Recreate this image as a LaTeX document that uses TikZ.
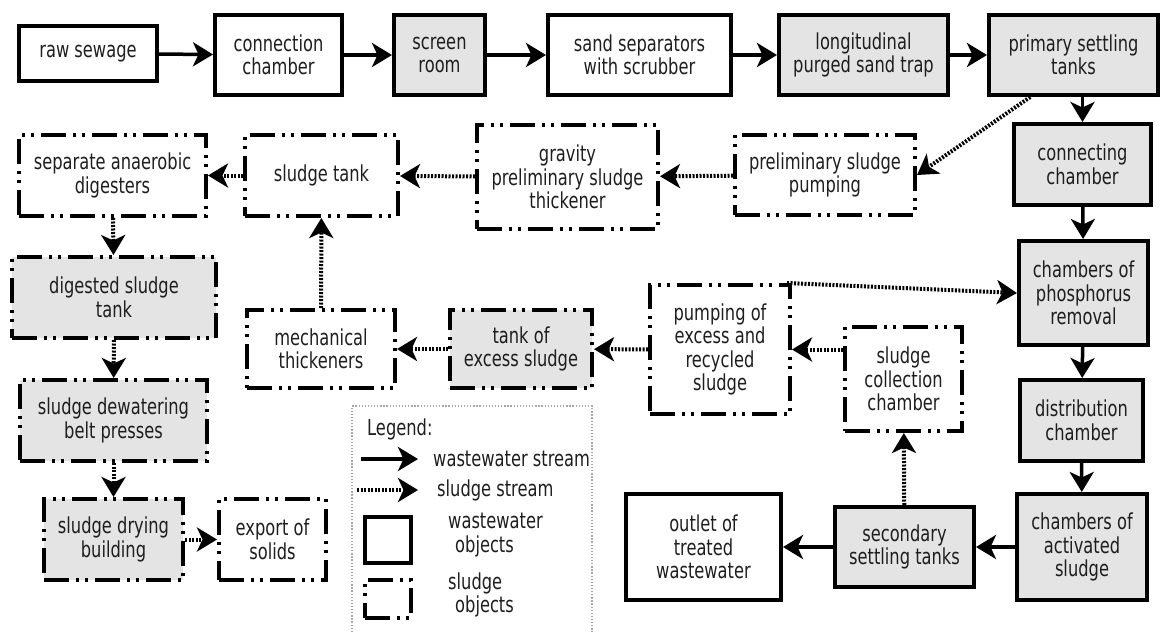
\documentclass[tikz,border=0pt]{standalone}
\usepackage{fontspec}
\setmainfont{DejaVu Sans}[FakeStretch=0.74]
\usetikzlibrary{arrows.meta,calc}
\definecolor{boxgray}{HTML}{E4E4E4}
\definecolor{txt}{HTML}{1E1E1E}
\begin{document}
\begin{tikzpicture}[x=1pt,y=-1pt,
  base/.style={draw=black, line width=4pt, align=center, text=txt,
    font=\fontsize{22}{23.5}\selectfont, inner sep=0pt},
  wwbox/.style={base},
  slbox/.style={base, dash pattern=on 25pt off 7pt on 3pt off 6pt on 3pt off 7pt},
  shaded/.style={fill=boxgray},
  sz/.style 2 args={minimum width=#1pt, minimum height=#2pt},
  tip/.style={-{Stealth[length=20pt,width=24pt,inset=5.5pt]}},
  ww/.style={line width=3.5pt, tip},
  sl/.style={line width=4pt, dash pattern=on 2pt off 1.5pt, tip},
  lbl/.style={text=txt, font=\fontsize{22}{23.5}\selectfont, inner sep=0pt, align=left}
]
\useasboundingbox (0,0) rectangle (1170,632);

% wastewater line
\node[wwbox, sz={138}{55}] (raw) at (88,53.5) {raw sewage};
\node[wwbox, sz={127}{80}] (conn) at (278.5,55) {connection\\chamber};
\node[wwbox, shaded, sz={91}{80}] (screen) at (439.5,55) {screen\\room};
\node[wwbox, sz={183}{80}] (sand) at (639.5,55) {sand separators\\with scrubber};
\node[wwbox, shaded, sz={169}{80}] (long) at (863.5,55) {longitudinal\\purged sand trap};
\node[wwbox, shaded, sz={169}{80}] (primary) at (1073.5,55) {primary settling\\tanks};
\node[wwbox, shaded, sz={137}{81}] (connch) at (1082.5,164.5) {connecting\\chamber};
\node[wwbox, shaded, sz={129}{104}] (phos) at (1083.5,293) {chambers of\\phosphorus\\removal};
\node[wwbox, shaded, sz={123}{81}] (dist) at (1081.5,420.5) {distribution\\chamber};
\node[wwbox, shaded, sz={130}{106}] (activ) at (1082,547) {chambers of\\activated\\sludge};
\node[wwbox, shaded, sz={139}{80}] (second) at (904.5,547) {secondary\\settling tanks};
\node[wwbox, sz={155}{106}] (outlet) at (703.5,547) {outlet of\\treated\\wastewater};

% sludge line
\node[slbox, sz={180}{80}] (prelim) at (825,175) {preliminary sludge\\pumping};
\node[slbox, sz={181}{104}] (gravity) at (567.5,177) {gravity\\preliminary sludge\\thickener};
\node[slbox, sz={153}{81}] (stank) at (321.5,175.5) {sludge tank};
\node[slbox, sz={187}{81}] (digesters) at (112.5,175.5) {separate anaerobic\\digesters};
\node[slbox, shaded, sz={204}{81}] (digested) at (114,297.5) {digested sludge\\tank};
\node[slbox, shaded, sz={187}{81}] (dewater) at (113.5,420.5) {sludge dewatering\\belt presses};
\node[slbox, shaded, sz={139}{81}] (drying) at (113.5,539.5) {sludge drying\\building};
\node[slbox, sz={107}{81}] (export) at (272.5,539.5) {export of\\solids};
\node[slbox, sz={148}{78}] (mech) at (321,349) {mechanical\\thickeners};
\node[slbox, shaded, sz={142}{78}] (excess) at (521,349) {tank of\\excess sludge};
\node[slbox, sz={140}{129}] (pumping) at (720,349.5) {pumping of\\excess and\\recycled\\sludge};
\node[slbox, sz={117}{104}] (collect) at (903.5,379) {sludge\\collection\\chamber};

% wastewater connectors
\draw[ww] (raw) -- (conn);
\draw[ww] (conn) -- (screen);
\draw[ww] (screen) -- (sand);
\draw[ww] (sand) -- (long);
\draw[ww] (long) -- (primary);
\draw[ww] (primary.south -| connch.north) -- (connch.north);
\draw[ww] (connch) -- (phos);
\draw[ww] (phos) -- (dist);
\draw[ww] (dist) -- (activ);
\draw[ww] (activ) -- (second);
\draw[ww] (second) -- (outlet);

% sludge connectors
\coordinate (pstart) at ($(primary.south west)!0.25!(primary.south east)$);
\draw[sl] (pstart) -- (prelim.east);
\draw[sl] (prelim) -- (gravity);
\draw[sl] (gravity) -- (stank);
\draw[sl] (stank) -- (digesters);
\draw[sl] (digesters) -- (digested);
\draw[sl] (digested) -- (dewater);
\draw[sl] (dewater) -- (drying);
\draw[sl] (drying) -- (export);
\draw[sl] (mech) -- (stank);
\draw[sl] (excess) -- (mech);
\draw[sl] (pumping) -- (excess);
\draw[sl] (pumping.east -| collect.west) -- (pumping.east);
\coordinate (pumpne) at ($(pumping.north east)+(-5,0)$);
\draw[sl] (pumpne) -- (phos.west);
\draw[sl] (second) -- (collect);

% legend
\draw[gray!70, line width=1.3pt, dash pattern=on 1.3pt off 1.8pt]
  (352,632) -- (352,406) -- (592,406) -- (592,632);
\node[lbl, anchor=west] (legtitle) at (367,429) {Legend:};
\coordinate (wa) at (361,459);
\coordinate (wb) at (418,459);
\draw[ww] (wa) -- (wb);
\node[lbl, anchor=west] (wlbl) at (433,459) {wastewater stream};
\coordinate (sa) at (357,490);
\coordinate (sb) at (418,490);
\draw[sl] (sa) -- (sb);
\node[lbl, anchor=west] (slbl) at (437,490) {sludge stream};
\node[wwbox, sz={46}{46}] (legww) at (388,540) {};
\node[lbl, anchor=west] (legwwt) at (448,535) {wastewater\\\hspace{7pt}objects};
\node[slbox, sz={46}{38}] (legsl) at (388,599) {};
\node[lbl, anchor=west] (legslt) at (448,595) {sludge\\\hspace{7pt}objects};
\end{tikzpicture}
\end{document}
